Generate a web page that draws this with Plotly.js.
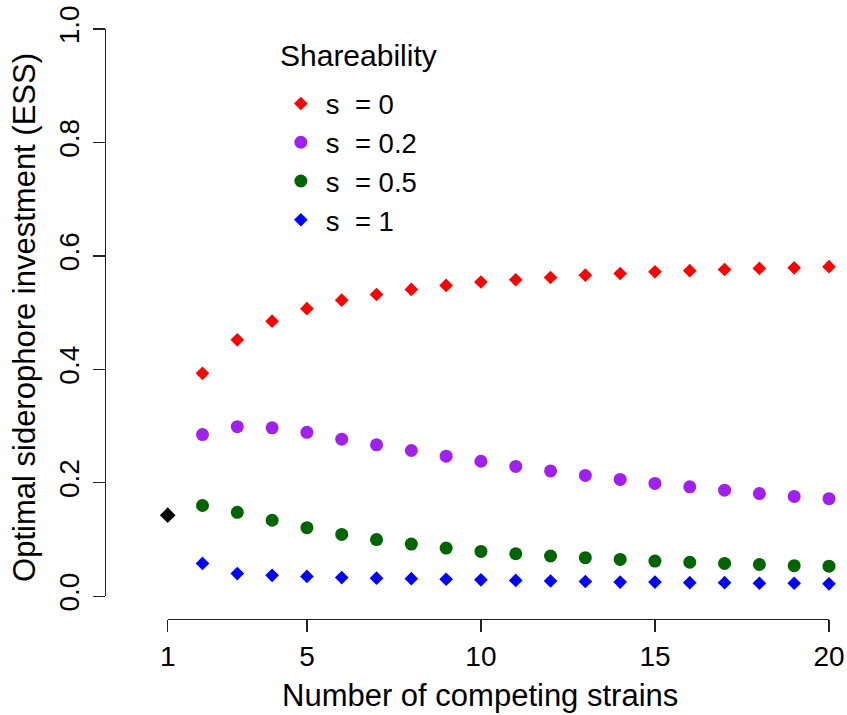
<!DOCTYPE html>
<html>
<head>
<meta charset="utf-8">
<script src="https://cdn.plot.ly/plotly-3.0.1.min.js"></script>
<style>
  html, body { margin: 0; padding: 0; background: #fff; }
  #chart { width: 847px; height: 715px; }
</style>
</head>
<body>
<div id="chart"></div>
<script>
// Number of competing strains
var strains = [2, 3, 4, 5, 6, 7, 8, 9, 10, 11, 12, 13, 14, 15, 16, 17, 18, 19, 20];
// Single-strain ESS
var singleX = [1];
var singleY = [0.143];
// Optimal siderophore investment (ESS) for each shareability
var s0   = [0.393, 0.452, 0.485, 0.507, 0.522, 0.532, 0.541, 0.548, 0.554, 0.558, 0.562, 0.566, 0.569, 0.572, 0.574, 0.576, 0.578, 0.579, 0.581];
var s02  = [0.285, 0.299, 0.297, 0.289, 0.277, 0.267, 0.257, 0.247, 0.238, 0.229, 0.221, 0.213, 0.206, 0.199, 0.193, 0.187, 0.181, 0.176, 0.172];
var s05  = [0.160, 0.148, 0.134, 0.121, 0.109, 0.100, 0.092, 0.085, 0.079, 0.075, 0.071, 0.068, 0.065, 0.062, 0.060, 0.058, 0.056, 0.054, 0.053];
var s1   = [0.058, 0.040, 0.037, 0.035, 0.033, 0.032, 0.031, 0.030, 0.029, 0.028, 0.027, 0.026, 0.025, 0.025, 0.024, 0.024, 0.023, 0.023, 0.022];
var seriesNames = ["s\u00a0\u00a0= 0", "s\u00a0\u00a0= 0.2", "s\u00a0\u00a0= 0.5", "s\u00a0\u00a0= 1"];
var xTicks = [1, 5, 10, 15, 20];
var yTicks = [0, 0.2, 0.4, 0.6, 0.8, 1.0];
var xTitle = 'Number of competing strains';
var yTitle = 'Optimal siderophore investment (ESS)';
var legendTitle = 'Shareability';

function pts(y, name, color, symbol, size) {
  return {
    type: 'scatter', mode: 'markers', x: strains, y: y, name: name,
    cliponaxis: false,
    marker: {color: color, symbol: symbol, size: size, line: {width: 0}}
  };
}

var traces = [
  pts(s0,  seriesNames[0], '#FF0000', 'diamond', 10.5),
  pts(s02, seriesNames[1], '#A020F0', 'circle', 13),
  pts(s05, seriesNames[2], '#006400', 'circle', 13),
  pts(s1,  seriesNames[3], '#0000FF', 'diamond', 10.5),
  {
    type: 'scatter', mode: 'markers', x: singleX, y: singleY, showlegend: false,
    cliponaxis: false,
    marker: {color: '#000000', symbol: 'diamond', size: 12, line: {width: 0}}
  }
];

var font = "'Liberation Sans', Arial, Helvetica, sans-serif";
var axisColor = '#222222';

var layout = {
  width: 847, height: 715,
  margin: {l: 105, r: 18, t: 29, b: 96, pad: 0},
  paper_bgcolor: '#ffffff', plot_bgcolor: '#ffffff',
  font: {family: font, color: '#000000', size: 28},
  showlegend: true,
  legend: {
    x: 0.236, y: 0.915, xanchor: 'left', yanchor: 'top',
    bgcolor: 'rgba(0,0,0,0)', borderwidth: 0,
    font: {family: font, size: 27.5, color: '#000000'},
    traceorder: 'normal', itemsizing: 'trace', itemwidth: 40
  },
  xaxis: {
    domain: [0.0866, 1], range: [1, 20], anchor: 'free', position: 0,
    showgrid: false, zeroline: false, showline: true, linecolor: axisColor, linewidth: 1.3,
    ticks: 'outside', ticklen: 12, tickwidth: 1.3, tickcolor: axisColor,
    tickvals: xTicks, ticktext: xTicks.map(String),
    tickfont: {family: font, size: 28, color: '#000'},
    automargin: false
  },
  yaxis: {
    domain: [0.0385, 1], range: [0, 1], anchor: 'free', position: 0,
    showgrid: false, zeroline: false, showline: true, linecolor: axisColor, linewidth: 1.3,
    ticks: 'outside', ticklen: 12, tickwidth: 1.3, tickcolor: axisColor,
    tickvals: yTicks, tickformat: '.1f', tickangle: -90, ticklabelstandoff: 3,
    tickfont: {family: font, size: 28, color: '#000'},
    automargin: false
  },
  annotations: [
    {text: xTitle, xref: 'paper', yref: 'paper', x: 0.518, y: -0.1305,
     xanchor: 'center', yanchor: 'middle', showarrow: false,
     font: {family: font, size: 31, color: '#000'}},
    {text: yTitle, xref: 'paper', yref: 'paper', x: -0.1105, y: 0.512, textangle: -90,
     xanchor: 'center', yanchor: 'middle', showarrow: false,
     font: {family: font, size: 31, color: '#000'}},
    {text: legendTitle, xref: 'paper', yref: 'paper', x: 0.239, y: 0.955,
     xanchor: 'left', yanchor: 'middle', showarrow: false,
     font: {family: font, size: 30, color: '#000'}}
  ]
};

Plotly.newPlot('chart', traces, layout, {displayModeBar: false, staticPlot: true});
</script>
</body>
</html>
